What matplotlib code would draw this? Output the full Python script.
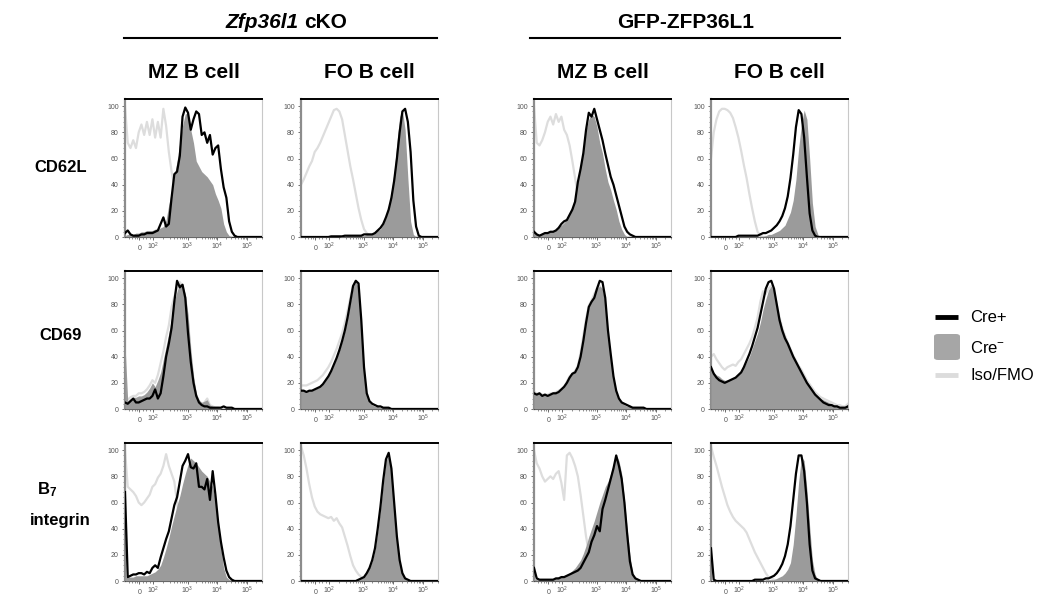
import numpy as np
import matplotlib.pyplot as plt
from matplotlib.lines import Line2D
from matplotlib.patches import FancyBboxPatch

plt.rcParams['font.family'] = ['Liberation Sans', 'DejaVu Sans']
plt.rcParams['mathtext.fontset'] = 'custom'
plt.rcParams['mathtext.rm'] = 'Liberation Sans'
plt.rcParams['mathtext.it'] = 'Liberation Sans:italic'
plt.rcParams['mathtext.bf'] = 'Liberation Sans:bold'

# histogram bins on the display (biexponential) scale, 0 = left edge, 1 = right edge
channel = np.linspace(0, 1, 51)

# axis labels of the biexponential scale
xtick_pos = [0.105, 0.205, 0.457, 0.671, 0.893]
xtick_lab = ['$0$', '$10^2$', '$10^3$', '$10^4$', '$10^5$']

groups = ['Zfp36l1', 'GFP-ZFP36L1']
cell_types = ['MZ B cell', 'FO B cell', 'MZ B cell', 'FO B cell']
markers = ['CD62L', 'CD69', 'B7 integrin']
legend_labels = ['Cre+', 'Cre$^{-}$', 'Iso/FMO']

# normalised to mode (%): pos = Cre+, neg = Cre-, iso = Iso/FMO
cd62l_mz_ko_pos = [3, 5, 2, 1, 1, 1, 2, 2, 3, 3, 3, 4, 5, 10, 15, 8, 10, 30, 48, 50, 62, 92, 99, 95, 82,
                   90, 96, 94, 78, 80, 72, 78, 63, 68, 70, 52, 38, 30, 12, 4, 1] + [0] * 10
cd62l_mz_ko_neg = [1, 2, 2, 2, 3, 3, 4, 4, 5, 5, 5, 6, 6, 7, 8, 13, 25, 35, 47, 58, 72, 85, 94, 95, 82,
                   72, 58, 54, 50, 48, 46, 43, 40, 33, 28, 22, 10, 4, 1] + [0] * 12
cd62l_mz_ko_iso = [100, 72, 68, 74, 68, 80, 86, 78, 88, 78, 90, 76, 88, 76, 98, 85, 65, 50, 38, 28, 18,
                   10, 5, 2] + [0] * 27

cd62l_fo_ko_pos = [0] * 11 + [0.5] * 5 + [1] * 5 + [1, 1, 2, 2, 2, 2] + \
                  [3, 5, 7, 10, 15, 21, 30, 43, 60, 80, 96, 98, 88, 65, 28, 8, 1] + [0] * 7
cd62l_fo_ko_neg = [0] * 15 + [0.5, 0.5, 1, 1, 1, 1] + [1, 1, 1, 2, 2, 2] + \
                  [3, 5, 6, 10, 15, 23, 35, 50, 72, 92, 97, 82, 45, 12, 2] + [0] * 9
cd62l_fo_ko_iso = [40, 44, 49, 54, 58, 65, 68, 72, 77, 82, 87, 92, 97, 98, 96, 90, 78, 66, 54, 44, 33,
                   22, 13, 6, 3, 1] + [0] * 25

cd62l_mz_gfp_pos = [4, 2, 1, 2, 3, 3, 4, 4, 5, 7, 10, 12, 13, 17, 21, 27, 42, 52, 64, 82, 95, 92, 98, 90,
                    82, 74, 64, 55, 46, 40, 32, 24, 16, 8, 4, 2, 1] + [0] * 14
cd62l_mz_gfp_neg = [3, 2, 2, 2, 3, 3, 4, 5, 6, 8, 9, 11, 14, 17, 22, 32, 44, 56, 68, 82, 90, 94, 92, 84,
                    72, 64, 52, 42, 36, 28, 21, 12, 6, 2] + [0] * 17
cd62l_mz_gfp_iso = [100, 72, 70, 74, 80, 88, 92, 86, 94, 88, 92, 82, 78, 70, 58, 45, 32, 20, 12, 6,
                    2] + [0] * 30

cd62l_fo_gfp_pos = [0] * 10 + [1] * 8 + [2, 3, 3, 4, 5, 7, 9, 12, 16, 22, 31, 45, 63, 84, 97, 94, 76,
                                         46, 18, 5, 1] + [0] * 12
cd62l_fo_gfp_neg = [0] * 10 + [0.5] * 10 + [1, 2, 2, 3, 4, 5, 7, 9, 14, 19, 28, 44, 68, 86, 97, 90, 60,
                                            26, 8, 2] + [0] * 11
cd62l_fo_gfp_iso = [60, 80, 90, 96, 98, 98, 97, 95, 91, 84, 76, 66, 55, 45, 33, 22, 12, 4, 1] + [0] * 32

cd69_mz_ko_pos = [5, 4, 6, 8, 5, 5, 6, 7, 8, 8, 10, 15, 8, 12, 25, 40, 50, 62, 82, 98, 93, 95, 85, 58, 36,
                  20, 10, 5, 3, 2, 2, 1, 1, 1, 1, 1, 2, 1, 1, 1] + [0] * 11
cd69_mz_ko_neg = [50, 6, 8, 9, 9, 10, 10, 11, 13, 16, 20, 17, 22, 28, 38, 48, 58, 70, 82, 90, 96, 94, 88,
                  72, 45, 25, 12, 7, 5, 6, 7, 3, 2, 1, 1] + [0] * 16
cd69_mz_ko_iso = [10, 7, 9, 10, 10, 12, 12, 13, 15, 18, 22, 20, 26, 35, 44, 55, 64, 78, 86, 92, 97, 94, 86,
                  68, 42, 22, 10, 6, 4, 5, 8, 3, 2, 1, 1] + [0] * 16

cd69_fo_ko_pos = [14, 14, 13, 14, 14, 15, 16, 17, 19, 22, 25, 29, 34, 39, 45, 52, 60, 70, 82, 94, 98, 96,
                  68, 32, 12, 6, 4, 3, 2, 2, 1, 1, 1] + [0] * 18
cd69_fo_ko_neg = [14, 14, 13, 14, 14, 15, 16, 17, 19, 22, 25, 29, 34, 39, 45, 52, 60, 70, 82, 93, 98, 92,
                  60, 28, 10, 5, 3, 2, 2, 1, 1, 1, 1] + [0] * 18
cd69_fo_ko_iso = [18, 18, 18, 19, 20, 21, 22, 24, 26, 29, 32, 36, 41, 46, 52, 58, 66, 75, 85, 94, 98, 90,
                  58, 26, 9, 4, 2, 1] + [0] * 23

cd69_mz_gfp_pos = [12, 11, 12, 10, 11, 10, 11, 12, 12, 13, 15, 17, 20, 24, 27, 28, 32, 40, 52, 66, 78, 82,
                   85, 92, 98, 97, 85, 60, 42, 25, 14, 8, 5, 4, 3, 2, 1, 1, 1, 1, 1] + [0] * 10
cd69_mz_gfp_neg = [12, 11, 12, 10, 11, 10, 11, 12, 12, 13, 15, 17, 20, 24, 27, 28, 32, 42, 55, 68, 78, 82,
                   88, 92, 94, 92, 80, 55, 38, 22, 12, 7, 5, 3, 2, 2, 1, 1, 1, 1, 1] + [0] * 10
cd69_mz_gfp_iso = [13, 12, 12, 11, 11, 11, 12, 12, 13, 14, 15, 17, 21, 25, 27, 29, 33, 43, 56, 69, 79, 83,
                   88, 92, 94, 91, 78, 54, 37, 21, 11, 7, 5, 3, 2, 2, 1, 1, 1, 1, 1] + [0] * 10

cd69_fo_gfp_pos = [32, 27, 24, 22, 21, 20, 21, 22, 23, 24, 26, 28, 32, 37, 42, 48, 55, 62, 72, 82, 92, 97,
                   98, 92, 80, 68, 60, 54, 50, 45, 40, 36, 32, 28, 24, 20, 17, 14, 11, 9, 7, 5, 4, 3, 3,
                   2, 2, 1, 1, 1, 2]
cd69_fo_gfp_neg = [31, 28, 26, 25, 23, 22, 22, 23, 24, 25, 27, 29, 32, 36, 40, 46, 52, 58, 66, 76, 84, 91,
                   94, 90, 80, 70, 62, 56, 51, 46, 41, 37, 33, 29, 25, 21, 18, 15, 12, 10, 8, 7, 6, 5, 4,
                   3, 3, 2, 2, 2, 4]
cd69_fo_gfp_iso = [40, 42, 38, 35, 32, 30, 32, 33, 34, 33, 36, 38, 42, 46, 50, 55, 62, 70, 82, 90, 88, 92,
                   94, 90, 80, 70, 62, 56, 51, 46, 41, 37, 33, 30, 26, 22, 19, 16, 13, 11, 9, 8, 7, 6, 5,
                   4, 3, 3, 2, 2, 4]

b7_mz_ko_pos = [68, 3, 4, 5, 5, 6, 6, 5, 7, 6, 10, 12, 10, 18, 25, 32, 38, 48, 58, 64, 76, 88, 92, 97, 87,
                86, 90, 72, 72, 70, 78, 62, 84, 66, 45, 30, 18, 8, 3, 1] + [0] * 11
b7_mz_ko_neg = [3, 3, 3, 3, 4, 4, 4, 4, 4, 5, 6, 7, 9, 12, 18, 25, 33, 42, 50, 58, 65, 74, 82, 89, 94, 92,
                90, 87, 84, 82, 80, 76, 72, 62, 45, 25, 10, 3, 1] + [0] * 12
b7_mz_ko_iso = [100, 72, 70, 68, 65, 60, 58, 60, 63, 66, 72, 74, 79, 82, 88, 97, 88, 82, 76, 60, 45, 30,
                18, 10, 5, 2] + [0] * 25

b7_fo_ko_pos = [0] * 21 + [1, 2, 3, 6, 10, 16, 25, 40, 57, 77, 93, 98, 86, 60, 34, 16, 6, 2, 1] + [0] * 11
b7_fo_ko_neg = [0] * 21 + [1, 2, 3, 6, 10, 15, 24, 38, 55, 75, 92, 96, 82, 55, 30, 14, 5, 2] + [0] * 12
b7_fo_ko_iso = [103, 96, 86, 74, 64, 57, 53, 51, 50, 49, 48, 49, 46, 48, 44, 41, 34, 27, 19, 12, 8, 5, 3,
                2, 1] + [0] * 26

b7_mz_gfp_pos = [10, 2, 1, 1, 1, 1, 1, 1, 2, 2, 3, 3, 4, 5, 6, 7, 8, 10, 14, 18, 22, 30, 35, 42, 38, 55,
                 62, 70, 78, 86, 96, 88, 78, 60, 36, 15, 5, 2, 1] + [0] * 12
b7_mz_gfp_neg = [2, 1, 1, 1, 1, 1, 1, 2, 2, 3, 3, 4, 5, 6, 8, 10, 13, 16, 21, 27, 34, 40, 46, 53, 60, 66,
                 72, 76, 82, 90, 96, 92, 82, 62, 40, 20, 6, 2, 1] + [0] * 12
b7_mz_gfp_iso = [100, 90, 86, 80, 76, 78, 80, 78, 82, 84, 75, 62, 96, 98, 94, 88, 80, 66, 50, 34, 22, 12,
                 6, 3, 1] + [0] * 26

b7_fo_gfp_pos = [25, 1] + [0] * 14 + [1, 1, 1, 1] + [2, 2, 3, 4, 6, 9, 13, 19, 28, 42, 62, 82, 96, 96, 84,
                                                    60, 28, 8, 2, 1] + [0] * 11
b7_fo_gfp_neg = [0] * 20 + [1, 1, 1, 1] + [2, 3, 4, 6, 9, 14, 28, 50, 76, 95, 92, 70, 42, 16, 5, 1] + [0] * 11
b7_fo_gfp_iso = [103, 95, 88, 80, 72, 65, 58, 53, 49, 46, 44, 42, 40, 37, 32, 27, 22, 18, 14, 10, 6, 3, 2,
                 1] + [0] * 27

grid = [
    [(cd62l_mz_ko_pos, cd62l_mz_ko_neg, cd62l_mz_ko_iso),
     (cd62l_fo_ko_pos, cd62l_fo_ko_neg, cd62l_fo_ko_iso),
     (cd62l_mz_gfp_pos, cd62l_mz_gfp_neg, cd62l_mz_gfp_iso),
     (cd62l_fo_gfp_pos, cd62l_fo_gfp_neg, cd62l_fo_gfp_iso)],
    [(cd69_mz_ko_pos, cd69_mz_ko_neg, cd69_mz_ko_iso),
     (cd69_fo_ko_pos, cd69_fo_ko_neg, cd69_fo_ko_iso),
     (cd69_mz_gfp_pos, cd69_mz_gfp_neg, cd69_mz_gfp_iso),
     (cd69_fo_gfp_pos, cd69_fo_gfp_neg, cd69_fo_gfp_iso)],
    [(b7_mz_ko_pos, b7_mz_ko_neg, b7_mz_ko_iso),
     (b7_fo_ko_pos, b7_fo_ko_neg, b7_fo_ko_iso),
     (b7_mz_gfp_pos, b7_mz_gfp_neg, b7_mz_gfp_iso),
     (b7_fo_gfp_pos, b7_fo_gfp_neg, b7_fo_gfp_iso)],
]

W, H = 1044, 600
fig = plt.figure(figsize=(W / 100, H / 100), dpi=100)


def fx(x):
    return x / W


def fy(y):
    return 1 - y / H


# minor ticks of the biexponential axis
minor_x = [0.03, 0.05, 0.07, 0.085, 0.13, 0.155, 0.18]
for a, b in zip(xtick_pos[1:-1], xtick_pos[2:]):
    minor_x += [a + (b - a) * np.log10(m) for m in range(2, 10)]
minor_x += [xtick_pos[-1] + (xtick_pos[-1] - xtick_pos[-2]) * np.log10(m) for m in range(2, 4)]

col_left = [125, 301, 534, 711]
row_top = [99, 271, 443]
pw, ph = 137, 138

for r, row in enumerate(grid):
    for c, (pos, neg, iso) in enumerate(row):
        ax = fig.add_axes([fx(col_left[c]), fy(row_top[r] + ph), pw / W, ph / H])
        ax.plot(channel, iso, color='#dddddd', lw=1.6, zorder=2)
        ax.fill_between(channel, neg, color='#9b9b9b', lw=0, zorder=3)
        ax.plot(channel, pos, color='black', lw=1.6, zorder=4)
        ax.set_xlim(0, 1)
        ax.set_ylim(0, 105.5)
        ax.set_xticks(xtick_pos)
        ax.set_xticklabels(xtick_lab, va='baseline')
        ax.set_xticks(minor_x, minor=True)
        ax.set_yticks(range(0, 101, 20))
        ax.set_yticks(range(0, 101, 4), minor=True)
        ax.tick_params(labelsize=5, labelcolor='#555555', color='#555555', width=0.6,
                       length=2.5, pad=2)
        ax.tick_params(axis='x', pad=6.5)
        ax.tick_params(which='minor', length=1.3, width=0.5, color='#666666')
        ax.spines['top'].set_color('black')
        ax.spines['top'].set_linewidth(1.4)
        ax.spines['left'].set_color('#8c8c8c')
        ax.spines['left'].set_linewidth(1.6)
        ax.spines['right'].set_color('#c8c8c8')
        ax.spines['right'].set_linewidth(0.8)
        ax.spines['bottom'].set_color('#333333')
        ax.spines['bottom'].set_linewidth(0.8)

# group headers
fig.text(fx(299), fy(22), groups[0], fontsize=15, fontweight='bold', fontstyle='italic',
         ha='right', va='center')
fig.text(fx(304), fy(22), 'cKO', fontsize=15, fontweight='bold', ha='left', va='center')
fig.text(fx(686), fy(22), groups[1], fontsize=15, fontweight='bold', ha='center', va='center')
fig.add_artist(Line2D([fx(124), fx(437)], [fy(38), fy(38)], color='black', lw=1.5))
fig.add_artist(Line2D([fx(530), fx(840)], [fy(38), fy(38)], color='black', lw=1.5))

for c, name in enumerate(cell_types):
    fig.text(fx(col_left[c] + pw / 2), fy(72), name, fontsize=15, fontweight='bold',
             ha='center', va='center')

# row labels
fig.text(fx(61), fy(168), markers[0], fontsize=12, fontweight='bold', ha='center', va='center')
fig.text(fx(61), fy(335), markers[1], fontsize=12, fontweight='bold', ha='center', va='center')
fig.text(fx(47), fy(490), r'$\mathbf{B_7}$', fontsize=12, ha='center', va='center')
fig.text(fx(60), fy(520), markers[2].split()[1], fontsize=12, fontweight='bold', ha='center', va='center')

# legend
fig.add_artist(Line2D([fx(935), fx(958)], [fy(317), fy(317)], color='black', lw=3.5,
                      solid_capstyle='butt'))
fig.add_artist(FancyBboxPatch((fx(934), fy(360)), fx(26), 26 / H,
                              boxstyle='round,pad=0,rounding_size=0.004',
                              facecolor='#a6a6a6', edgecolor='none', transform=fig.transFigure))
fig.add_artist(Line2D([fx(935), fx(958)], [fy(375), fy(375)], color='#dcdcdc', lw=3.5,
                      solid_capstyle='butt'))
fig.text(fx(970), fy(318), legend_labels[0], fontsize=12, ha='left', va='center')
fig.text(fx(970), fy(348), legend_labels[1], fontsize=12, ha='left', va='center')
fig.text(fx(970), fy(376), legend_labels[2], fontsize=12, ha='left', va='center')

fig.savefig('out.png', dpi=100)
